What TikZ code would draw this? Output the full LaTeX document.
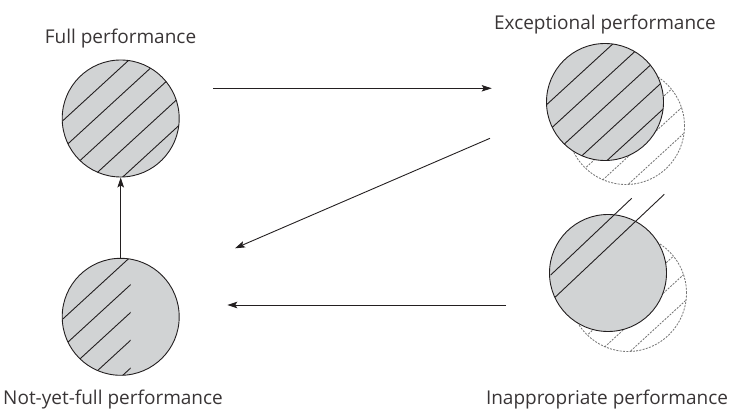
\documentclass[tikz,border=0pt]{standalone}
\usepackage{fontspec}
\setmainfont{Open Sans}
\usetikzlibrary{arrows.meta,calc}
\definecolor{discfill}{HTML}{D1D3D4}
\definecolor{ink}{HTML}{231F20}
\definecolor{ghostgray}{HTML}{777777}
\newcommand\hatchset[3]{% center, clip radius, style
  \foreach \o in {-37.5,-17,3.5,24,44.5}
    \draw[#3] ($(#1)+({0.676*\o-0.737*90},{0.737*\o+0.676*90})$) --
              ($(#1)+({0.676*\o+0.737*90},{0.737*\o-0.676*90})$);
}
\begin{document}
\begin{tikzpicture}[x=1pt,y=-1pt,
  disc/.style={circle, draw=ink, fill=discfill, line width=0.9pt, minimum size=117pt, inner sep=0pt},
  ghost/.style={circle, draw=ghostgray, dash pattern=on 2pt off 1.3pt, line width=0.85pt, minimum size=117pt, inner sep=0pt},
  hatch/.style={draw=ink, line width=0.9pt},
  ghosthatch/.style={draw=ghostgray, dash pattern=on 2pt off 1.3pt, line width=0.85pt},
  conn/.style={draw=ink, line width=0.9pt, -{Stealth[length=10pt,width=6.5pt,inset=2pt]}},
  lab/.style={font=\fontsize{19}{22}\selectfont, text=ink!90, inner sep=0pt}]
\useasboundingbox (0,0) rectangle (731,411);

% ---- ghost (dashed) circles, drawn first so solid discs cover them
\node[ghost] (exghost) at (626,126) {};
\begin{scope}
  \clip (626,126) circle (58.5pt);
  \hatchset{exghost.center}{58.5}{ghosthatch}
\end{scope}
\node[ghost] (inghost) at (628,293) {};
\begin{scope}
  \clip (628,293) circle (58.5pt);
  \hatchset{inghost.center}{58.5}{ghosthatch}
\end{scope}

% ---- solid discs
\node[disc] (full) at (120.7,118.5) {};
\begin{scope}
  \clip (full.center) circle (58.5pt);
  \hatchset{full.center}{58.5}{hatch}
\end{scope}

\node[disc] (notyet) at (120.7,316.8) {};
\begin{scope}
  \clip (notyet.center) circle (58.5pt);
  \clip ($(notyet.center)+(-70,-70)$) rectangle ($(notyet.center)+(10,70)$);
  \hatchset{notyet.center}{58.5}{hatch}
\end{scope}

\node[disc] (excep) at (605,102) {};
\begin{scope}
  \clip (excep.center) circle (58.5pt);
  \hatchset{excep.center}{58.5}{hatch}
\end{scope}

\node[disc] (inapp) at (608,273) {};
\draw[hatch] (550.7,275) -- (631.7,198.3);
\draw[hatch] (555,297.3) -- (664.3,194.3);

% ---- labels
\node[lab, anchor=base] (lfull) at (120.5,44) {Full performance};
\node[lab, anchor=base] (lexcep) at (605,29.3) {Exceptional performance};
\node[lab, anchor=base west] (lnotyet) at (3,404.5) {Not-yet-full performance};
\node[lab, anchor=base east] (linapp) at (728.3,405) {Inappropriate performance};

% ---- connectors
\coordinate (a1) at (213.3,88.3);
\coordinate (a2) at (491.7,88.3);
\coordinate (b1) at (490,138.3);
\coordinate (b2) at (235,248.3);
\coordinate (c1) at (506,305);
\coordinate (c2) at (227.3,305);
\draw[conn] (a1) -- (a2);
\draw[conn] (b1) -- (b2);
\draw[conn] (c1) -- (c2);
\draw[conn] (notyet.north) -- (full.south);
\end{tikzpicture}
\end{document}
